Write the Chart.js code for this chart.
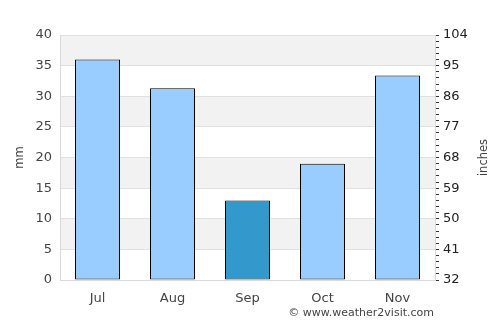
<!DOCTYPE html>
<html>
<head>
<meta charset="utf-8">
<script src="https://cdn.jsdelivr.net/npm/chart.js@4/dist/chart.umd.min.js"></script>
<style>
  html, body { margin: 0; padding: 0; background: #fff; }
  #wrap { position: relative; width: 500px; height: 325px; }
</style>
</head>
<body>
<div id="wrap"><canvas id="chart" width="500" height="325"></canvas></div>
<script>
// monthly rainfall (mm)
const months = ["Jul", "Aug", "Sep", "Oct", "Nov"];
const rainfall = [36.0, 31.3, 13.0, 19.0, 33.4];
const barColors = ["#99ccff", "#99ccff", "#3399cc", "#99ccff", "#99ccff"];

// left axis ticks (mm) and right axis major ticks
const mmTicks = [0, 5, 10, 15, 20, 25, 30, 35, 40];
const rightLabels = [32, 41, 50, 59, 68, 77, 86, 95, 104];
const rightMinorStep = 1.8;

// shaded horizontal bands, in mm
const bands = [[5, 10], [15, 20], [25, 30], [35, 40]];

const FONT = "'DejaVu Sans', sans-serif";

// minor + major positions on the right axis
const rightTicks = [];
for (let i = 0; i <= 40; i++) rightTicks.push(32 + i * rightMinorStep);

const bandPlugin = {
  id: "bands",
  beforeDraw(chart) {
    const { ctx, chartArea, scales } = chart;
    ctx.save();
    ctx.fillStyle = "#f2f2f2";
    bands.forEach(([lo, hi]) => {
      const y1 = scales.y.getPixelForValue(hi);
      const y2 = scales.y.getPixelForValue(lo);
      ctx.fillRect(chartArea.left, y1, chartArea.right - chartArea.left, y2 - y1);
    });
    ctx.restore();
  },
  afterDraw(chart) {
    const { ctx, chartArea } = chart;
    ctx.save();
    // right axis title, reads bottom to top like the left one
    ctx.font = "11.5px " + FONT;
    ctx.fillStyle = "#444";
    ctx.textAlign = "center";
    ctx.textBaseline = "middle";
    ctx.translate(484, (chartArea.top + chartArea.bottom) / 2);
    ctx.rotate(-Math.PI / 2);
    ctx.fillText("inches", 0, 0);
    ctx.restore();

    ctx.save();
    ctx.font = "11px " + FONT;
    ctx.fillStyle = "#444";
    ctx.textAlign = "right";
    ctx.textBaseline = "middle";
    ctx.fillText("© www.weather2visit.com", 434, 313);
    ctx.restore();
  },
};

new Chart(document.getElementById("chart"), {
  type: "bar",
  data: {
    labels: months,
    datasets: [{
      data: rainfall,
      backgroundColor: barColors,
      borderColor: "#000",
      borderWidth: 1,
      borderSkipped: false,
      barPercentage: 0.6,
      categoryPercentage: 1,
    }],
  },
  options: {
    responsive: false,
    animation: false,
    layout: { padding: { top: 35, left: 0, right: 0, bottom: 0 } },
    plugins: {
      legend: { display: false },
      tooltip: { enabled: false },
    },
    scales: {
      x: {
        grid: { display: false, drawTicks: false },
        border: { display: true, color: "#d9d9d9" },
        ticks: { color: "#444", font: { family: FONT, size: 13 }, padding: 11 },
        afterFit: (s) => { s.height = 45; },
      },
      y: {
        position: "left",
        min: 0,
        max: 40,
        afterBuildTicks: (s) => { s.ticks = mmTicks.map((v) => ({ value: v })); },
        grid: { color: "#e0e0e0", drawTicks: false },
        border: { color: "#d9d9d9" },
        ticks: { color: "#444", font: { family: FONT, size: 13 }, padding: 8 },
        title: { display: true, text: "mm", color: "#444", font: { family: FONT, size: 11.5 }, padding: { top: 13, bottom: 0 } },
        afterFit: (s) => { s.width = 60; },
      },
      y2: {
        position: "right",
        min: 32,
        max: 104,
        afterBuildTicks: (s) => { s.ticks = rightTicks.map((v) => ({ value: v })); },
        grid: { drawOnChartArea: false, drawTicks: true, tickLength: 4, color: "#333" },
        border: { color: "#d9d9d9" },
        ticks: {
          autoSkip: false,
          color: "#222",
          font: { family: FONT, size: 13 },
          padding: 4,
          callback: (v) => {
            const hit = rightLabels.find((r) => Math.abs(r - v) < 1e-6);
            return hit !== undefined ? String(hit) : "";
          },
        },
        afterFit: (s) => { s.width = 65; },
      },
    },
  },
  plugins: [bandPlugin],
});
</script>
</body>
</html>
